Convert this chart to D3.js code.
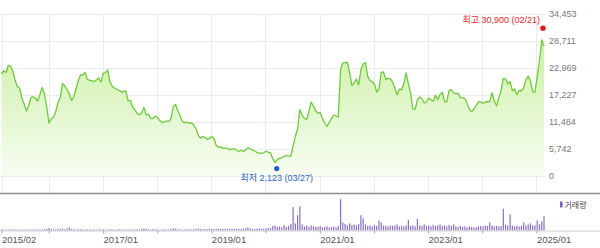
<!DOCTYPE html>
<html>
<head>
<meta charset="utf-8">
<script src="https://cdn.jsdelivr.net/npm/d3@7"></script>
<style>
  html, body { margin: 0; padding: 0; background: #fff; }
  svg { display: block; font-family: "Liberation Sans", Arial, "Noto Sans CJK KR", sans-serif; }
</style>
</head>
<body>
<svg id="chart" width="600" height="248"></svg>
<script>
// price points, evenly spaced in time from firstDate to lastDate
var firstDate = '2015-02-16';
var lastDate = '2025-02-21';

var closes = [
  21690, 22390, 22010, 23500, 23390, 22330, 20420, 19030, 18720, 16590,
  15310, 13820, 14890, 16650, 16860, 16590, 15950, 17330, 18820, 17440,
  14670, 11270, 12120, 12480, 13650, 15630, 16690, 19710, 19140, 18400,
  17440, 16060, 16860, 18610, 20310, 21540, 21480, 22010, 20520, 20370,
  20250, 20100, 20420, 20840, 19990, 21840, 22010, 22540, 19990, 19080,
  18720, 18400, 18230, 17860, 17970, 18080, 15990, 16100, 14720, 14040,
  13330, 12970, 13400, 14570, 12970, 13190, 12270, 12190, 12760, 12440,
  11800, 11360, 11440, 11700, 11550, 12230, 14780, 15210, 13890, 12820,
  11650, 11310, 11480, 11210, 11340, 10890, 10100, 8720, 8040, 8420,
  8190, 7810, 7980, 8400, 7980, 6490, 6120, 6190, 5870, 5910,
  5890, 5570, 5720, 5830, 5530, 5210, 5470, 5230, 5490, 6040,
  5740, 5570, 5320, 5020, 4890, 4830, 4930, 5270, 5080, 4930,
  3680, 2870, 3470, 3740, 3930, 4190, 4360, 4210, 4210, 6380,
  8440, 10000, 14140, 12970, 12230, 12020, 13720, 15740, 14890, 13820,
  13400, 13440, 12210, 11270, 10550, 11380, 12250, 12970, 12760, 12550,
  22610, 24070, 24100, 24180, 22050, 19250, 19820, 20630, 19330, 22540,
  23820, 24100, 21180, 20370, 20050, 19570, 17860, 18500, 22010, 22120,
  20500, 20760, 20710, 19990, 18720, 17270, 18460, 18330, 19690, 21950,
  19670, 17550, 14210, 14230, 16210, 16800, 16440, 15530, 15740, 16610,
  16230, 15870, 17180, 16250, 17310, 17820, 15820, 15800, 18160, 18400,
  17650, 17550, 17570, 16670, 16630, 16520, 15440, 14120, 13700, 14270,
  14990, 15800, 15700, 15480, 15740, 15840, 15820, 17650, 15990, 14910,
  16550, 18200, 20740, 20670, 19570, 20100, 18140, 18570, 17270, 18230,
  18080, 18800, 20420, 21250, 20200, 17910, 17820, 21180, 24560, 28920,
  27650
];

// volume, thousand shares, same dates as closes
var volumes = [
  1.0, 1.0, 0.8, 1.0, 1.2, 0.8, 1.0, 1.0, 0.7, 1.0,
  1.2, 1.0, 0.8, 1.0, 1.0, 0.9, 1.1, 1.0, 0.8, 1.3,
  1.5, 2.5, 1.5, 1.2, 1.0, 1.3, 1.5, 2.0, 1.2, 1.8,
  3.0, 1.5, 1.2, 1.0, 1.4, 1.2, 1.0, 0.8, 1.0, 1.2,
  1.0, 1.0, 0.8, 1.0, 1.2, 1.0, 0.9, 1.0, 1.3, 1.0,
  0.8, 1.0, 1.2, 1.0, 0.9, 1.0, 1.0, 0.8, 1.0, 1.1,
  1.2, 1.0, 1.5, 2.0, 1.5, 1.2, 1.0, 1.4, 1.2, 1.0,
  0.8, 1.0, 1.2, 1.0, 1.0, 1.5, 2.2, 1.8, 1.2, 1.0,
  1.0, 0.9, 1.0, 1.2, 1.0, 1.3, 1.5, 1.8, 1.5, 1.2,
  1.4, 1.2, 1.8, 1.5, 1.2, 1.6, 1.8, 1.5, 1.4, 1.6,
  1.5, 1.8, 1.6, 1.5, 1.4, 1.6, 1.5, 1.8, 2.0, 3.2,
  2.0, 1.6, 1.5, 1.8, 2.0, 1.6, 1.8, 2.0, 2.2, 2.5,
  4.5, 5.0, 3.5, 4.0, 3.0, 5.5, 3.5, 4.5, 6.5, 23.0,
  7.0, 15.0, 24.0, 6.0, 4.0, 5.0, 3.5, 5.0, 4.0, 3.5,
  3.5, 4.5, 3.0, 3.5, 4.0, 3.0, 3.5, 4.0, 3.0, 4.5,
  31.0, 8.0, 6.5, 5.0, 7.0, 5.5, 6.0, 5.0, 6.5, 15.0,
  12.0, 6.0, 4.5, 5.0, 4.0, 5.5, 4.5, 10.0, 8.0, 5.0,
  4.5, 4.0, 5.0, 4.5, 5.0, 6.0, 4.0, 4.5, 4.0, 5.0,
  10.5, 4.5, 5.0, 4.0, 11.5, 5.0, 4.5, 6.0, 4.5, 5.0,
  4.0, 5.5, 4.5, 5.0, 6.0, 4.5, 5.0, 4.0, 5.5, 4.5,
  6.0, 4.0, 3.5, 4.5, 3.5, 4.0, 3.0, 4.0, 3.5, 3.0,
  3.5, 4.0, 4.5, 4.0, 5.0, 4.5, 8.0, 5.0, 4.0, 4.5,
  4.0, 4.5, 21.5, 6.0, 5.0, 16.0, 5.0, 4.0, 4.5, 4.0,
  4.5, 8.0, 5.0, 6.0, 7.0, 5.0, 5.0, 10.0, 6.0, 9.0,
  14.0
];

var yTicks = [0, 5742, 11484, 17227, 22969, 28711, 34453];
var xTickDates = ['2015-02-16', '2016-01-01', '2017-01-01', '2018-01-01', '2019-01-01', '2020-01-01',
  '2021-01-01', '2022-01-01', '2023-01-01', '2024-01-01', '2025-01-01'];
var xTickLabels = ['2015/02', '', '2017/01', '', '2019/01', '', '2021/01', '', '2023/01', '', '2025/01'];

var high = { date: '2025-02-21', value: 30900, label: '최고 30,900 (02/21)' };
var low = { date: '2020-03-27', value: 2123, label: '최저 2,123 (03/27)' };
var volumeLabel = '거래량';

var svg = d3.select('#chart');
var parse = d3.timeParse('%Y-%m-%d');
var t0 = parse(firstDate), t1 = parse(lastDate);
var n = closes.length;
var dates = closes.map(function (d, i) { return new Date(+t0 + (t1 - t0) * i / (n - 1)); });
var data = closes.map(function (c, i) { return { date: dates[i], close: c, volume: volumes[i] }; });

var plotRight = 544;
var x = d3.scaleTime().domain([t0, t1]).range([1.5, plotRight]);
var y = d3.scaleLinear().domain([0, yTicks[yTicks.length - 1]]).range([176, 14]);
var yVol = d3.scaleLinear().domain([0, 34]).range([230.5, 196]);

var grad = svg.append('defs').append('linearGradient')
  .attr('id', 'fillGrad')
  .attr('gradientUnits', 'userSpaceOnUse')
  .attr('x1', 0).attr('x2', 0)
  .attr('y1', y(yTicks[yTicks.length - 1])).attr('y2', y(0));
grad.append('stop').attr('offset', '0%').attr('stop-color', '#c4ee98');
grad.append('stop').attr('offset', '100%').attr('stop-color', '#f7fdf2');

// grid
svg.append('g').selectAll('line')
  .data(yTicks)
  .enter().append('line')
  .attr('x1', 0).attr('x2', plotRight + 1)
  .attr('y1', function (d) { return Math.round(y(d)) + 0.5; })
  .attr('y2', function (d) { return Math.round(y(d)) + 0.5; })
  .attr('stroke', '#ebebeb');

svg.append('g').selectAll('line')
  .data(xTickDates.map(parse))
  .enter().append('line')
  .attr('x1', function (d) { return Math.round(x(d)) + 0.5; })
  .attr('x2', function (d) { return Math.round(x(d)) + 0.5; })
  .attr('y1', y(yTicks[yTicks.length - 1])).attr('y2', 193)
  .attr('stroke', '#ebebeb');

// price area + line
svg.append('path')
  .datum(data)
  .attr('fill', 'url(#fillGrad)')
  .attr('d', d3.area()
    .x(function (d) { return x(d.date); })
    .y0(y(0))
    .y1(function (d) { return y(d.close); }));

svg.append('path')
  .datum(data)
  .attr('fill', 'none')
  .attr('stroke', '#6acd34')
  .attr('stroke-width', 1.3)
  .attr('stroke-linejoin', 'round')
  .attr('d', d3.line()
    .x(function (d) { return x(d.date); })
    .y(function (d) { return y(d.close); }));

// y axis labels
var yAxis = svg.append('g')
  .attr('transform', 'translate(' + plotRight + ',0)')
  .call(d3.axisRight(y).tickValues(yTicks).tickSize(0).tickPadding(5).tickFormat(d3.format(',')));
yAxis.select('.domain').remove();
yAxis.selectAll('text')
  .attr('fill', '#777')
  .style('font-size', '9px');

// high / low markers
var hx = x(parse(high.date)), hy = y(high.value) - 2.5;
svg.append('circle').attr('cx', hx - 1).attr('cy', hy).attr('r', 2.7).attr('fill', '#f01414');
svg.append('text')
  .attr('x', hx - 4).attr('y', hy - 5.5)
  .attr('text-anchor', 'end')
  .attr('fill', '#f01e28')
  .style('font-size', '9px')
  .text(high.label);

var lx = x(parse(low.date)), ly = y(low.value) + 2.5;
svg.append('circle').attr('cx', lx - 1.5).attr('cy', ly).attr('r', 2.6).attr('fill', '#1560d4');
svg.append('text')
  .attr('x', lx - 1.5).attr('y', ly + 12.5)
  .attr('text-anchor', 'middle')
  .attr('fill', '#2566c8')
  .style('font-size', '9px')
  .text(low.label);

// pane separator
svg.append('line')
  .attr('x1', 0).attr('x2', 600)
  .attr('y1', 193.5).attr('y2', 193.5)
  .attr('stroke', '#8f8f8f')
  .attr('stroke-width', 1.5);

// volume bars
svg.append('g').selectAll('rect')
  .data(data)
  .enter().append('rect')
  .attr('x', function (d) { return x(d.date) - 0.6; })
  .attr('width', 1.2)
  .attr('y', function (d) { return yVol(d.volume); })
  .attr('height', function (d) { return yVol(0) - yVol(d.volume); })
  .attr('fill', '#8a6fc9');

// x axis
var xAxis = svg.append('g')
  .attr('transform', 'translate(0,' + yVol(0) + ')')
  .call(d3.axisBottom(x)
    .tickValues(xTickDates.map(parse))
    .tickSize(3)
    .tickFormat(function (d, i) { return xTickLabels[i]; }));
xAxis.select('.domain')
  .attr('d', 'M0,0.5H600')
  .attr('stroke', '#cfcfcf');
xAxis.selectAll('.tick line').attr('stroke', '#aaa');
xAxis.selectAll('text')
  .attr('text-anchor', 'start')
  .attr('x', 0)
  .attr('fill', '#555')
  .style('font-size', '9.5px');

// legend
svg.append('rect')
  .attr('x', 560).attr('y', 201.5)
  .attr('width', 2.5).attr('height', 6)
  .attr('fill', '#7b5fc3');
svg.append('text')
  .attr('x', 564.5).attr('y', 207.5)
  .attr('fill', '#444')
  .style('font-size', '8px')
  .text(volumeLabel);
</script>
</body>
</html>
